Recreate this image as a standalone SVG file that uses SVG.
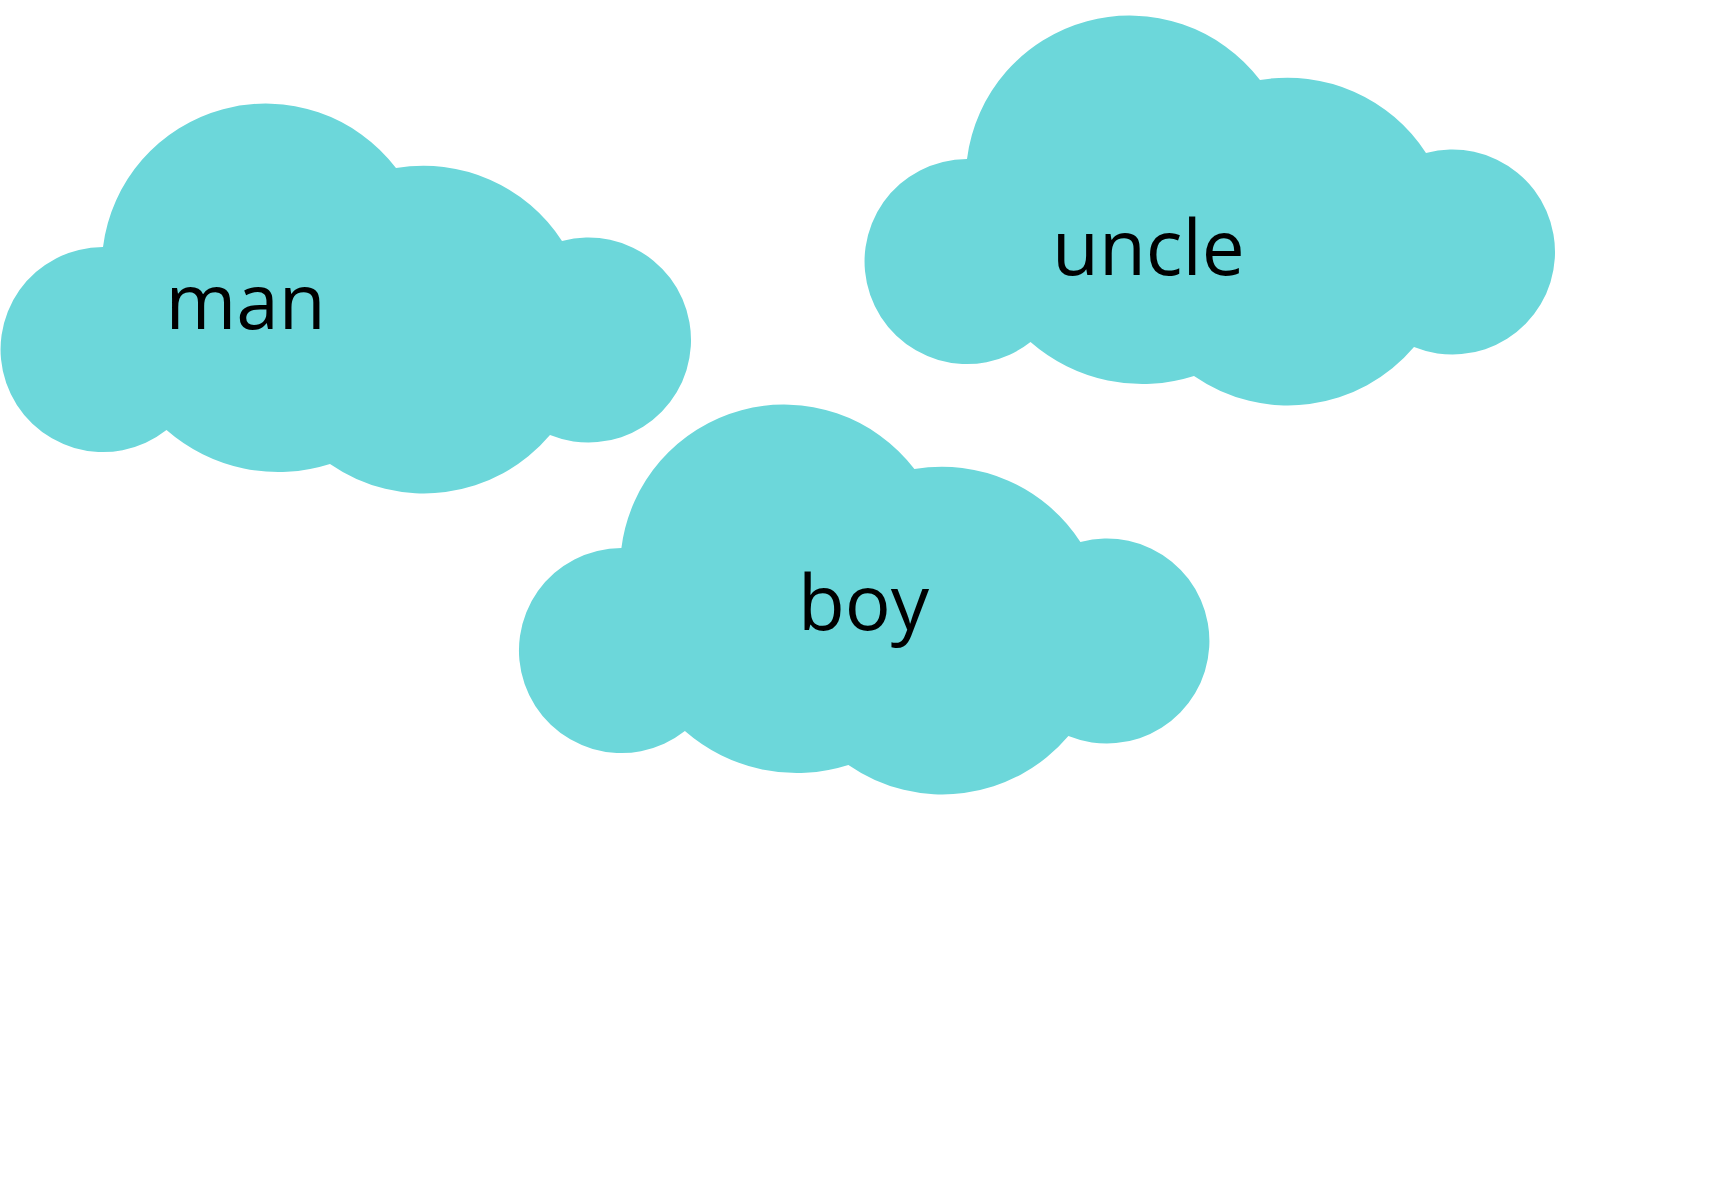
<svg xmlns="http://www.w3.org/2000/svg" width="1728" height="1200" viewBox="0 0 1728 1200">
<style>
.cloud{fill:#6cd7da}
text{font-family:"Open Sans",sans-serif;font-size:76.5px;fill:#000}
</style>
<defs>
<path id="cloud" class="cloud" d="M103,247 A164,164 0 0 1 396,168 A165,165 0 0 1 562,241 A102.5,102.5 0 1 1 550,435 A165,165 0 0 1 330,464 A170,170 0 0 1 166.5,430 A102.5,102.5 0 1 1 103,247 Z"/>
</defs>
<rect width="1728" height="1200" fill="#fff"/>
<g id="node-man"><use href="#cloud"/><text x="165.5" y="329">man</text></g>
<g id="node-uncle"><use href="#cloud" transform="translate(864,-88)"/><text x="1052" y="275">uncle</text></g>
<g id="node-boy"><use href="#cloud" transform="translate(518.4,301)"/><text x="798" y="630">boy</text></g>
<g id="connectors"></g>
</svg>
